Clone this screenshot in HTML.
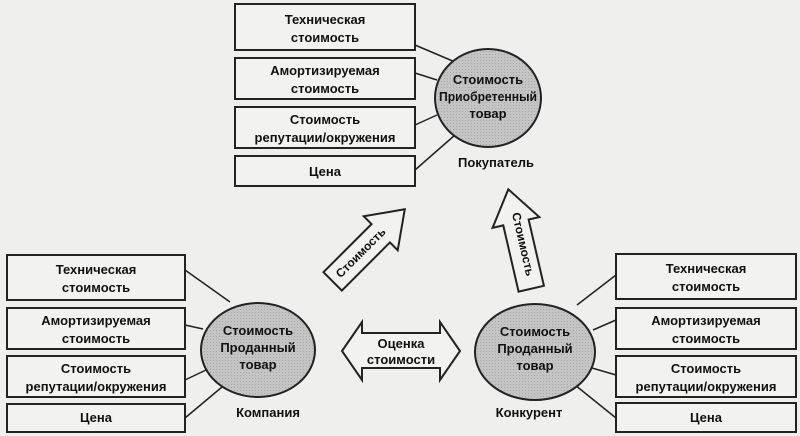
<!DOCTYPE html>
<html><head><meta charset="utf-8"><style>
body{margin:0;background:#efefed;}
svg{display:block;font-family:"Liberation Sans",sans-serif;font-weight:bold;}
</style></head><body>
<svg width="800" height="436" viewBox="0 0 800 436">
<defs>
<pattern id="g" width="3" height="3" patternUnits="userSpaceOnUse"><rect width="3" height="3" fill="#c4c4c4"/><rect width="1" height="1" fill="#a8a8a8"/></pattern>
</defs>
<g stroke="#222" stroke-width="1.5" fill="none">
<line x1="415" y1="45" x2="455" y2="62"/>
<line x1="415" y1="73" x2="437" y2="80"/>
<line x1="415" y1="125" x2="437" y2="115"/>
<line x1="415" y1="170" x2="455" y2="135"/>
<line x1="185" y1="270" x2="230" y2="302"/>
<line x1="185" y1="325" x2="203" y2="329"/>
<line x1="185" y1="380" x2="206" y2="370"/>
<line x1="185" y1="418" x2="228" y2="382"/>
<line x1="616" y1="275" x2="577" y2="305"/>
<line x1="616" y1="320" x2="593" y2="330"/>
<line x1="616" y1="375" x2="592" y2="368"/>
<line x1="616" y1="418" x2="575" y2="385"/>
</g>
<g fill="#f2f2f0" stroke="#222" stroke-width="2">
<rect x="235" y="4" width="180" height="46"/>
<rect x="235" y="58" width="180" height="41"/>
<rect x="235" y="107" width="180" height="41"/>
<rect x="235" y="156" width="180" height="30"/>
<rect x="7" y="255" width="178" height="45"/>
<rect x="7" y="308" width="178" height="41"/>
<rect x="7" y="356" width="178" height="41"/>
<rect x="7" y="404" width="178" height="28"/>
<rect x="616" y="254" width="180" height="45"/>
<rect x="616" y="308" width="180" height="41"/>
<rect x="616" y="356" width="180" height="41"/>
<rect x="616" y="403" width="180" height="29"/>
</g>
<g fill="url(#g)" stroke="#222" stroke-width="2">
<ellipse cx="488" cy="98" rx="53" ry="49"/>
<ellipse cx="258" cy="350" rx="57" ry="47"/>
<ellipse cx="535" cy="352" rx="60" ry="48"/>
</g>
<g fill="#f2f2f0" stroke="#222" stroke-width="2">
<polygon points="342,351 362,322 362,333 440,333 440,322 460,351 440,380 440,368 362,368 362,380"/>
<g transform="translate(368,246) rotate(-45)"><polygon points="-50,-13 18,-13 18,-24 52,0 18,24 18,13 -50,13"/></g>
<g transform="translate(520,240) rotate(-103)"><polygon points="-50,-13 18,-13 18,-24 52,0 18,24 18,13 -50,13"/></g>
</g>
<g font-size="13" fill="#111" text-anchor="middle">
<text x="325" y="24">Техническая</text><text x="325" y="42">стоимость</text>
<text x="325" y="75">Амортизируемая</text><text x="325" y="93">стоимость</text>
<text x="325" y="124">Стоимость</text><text x="325" y="142">репутации/окружения</text>
<text x="325" y="176">Цена</text>
<text x="96" y="274">Техническая</text><text x="96" y="292">стоимость</text>
<text x="96" y="325">Амортизируемая</text><text x="96" y="343">стоимость</text>
<text x="96" y="373">Стоимость</text><text x="96" y="391">репутации/окружения</text>
<text x="96" y="422">Цена</text>
<text x="706" y="273">Техническая</text><text x="706" y="291">стоимость</text>
<text x="706" y="325">Амортизируемая</text><text x="706" y="343">стоимость</text>
<text x="706" y="373">Стоимость</text><text x="706" y="391">репутации/окружения</text>
<text x="706" y="422">Цена</text>
<text x="488" y="84">Стоимость</text><text x="488" y="101" textLength="98" lengthAdjust="spacingAndGlyphs">Приобретенный</text><text x="488" y="118">товар</text>
<text x="258" y="335">Стоимость</text><text x="258" y="352">Проданный</text><text x="258" y="369">товар</text>
<text x="535" y="336">Стоимость</text><text x="535" y="353">Проданный</text><text x="535" y="370">товар</text>
<text x="496" y="167">Покупатель</text>
<text x="268" y="417">Компания</text>
<text x="529" y="417">Конкурент</text>
<text x="401" y="348">Оценка</text><text x="401" y="364">стоимости</text>
<text transform="translate(360,252) rotate(-45)" x="0" y="5" font-size="12">Стоимость</text>
<text transform="translate(524,244) rotate(77)" x="0" y="5" font-size="12">Стоимость</text>
</g>
</svg>
</body></html>
